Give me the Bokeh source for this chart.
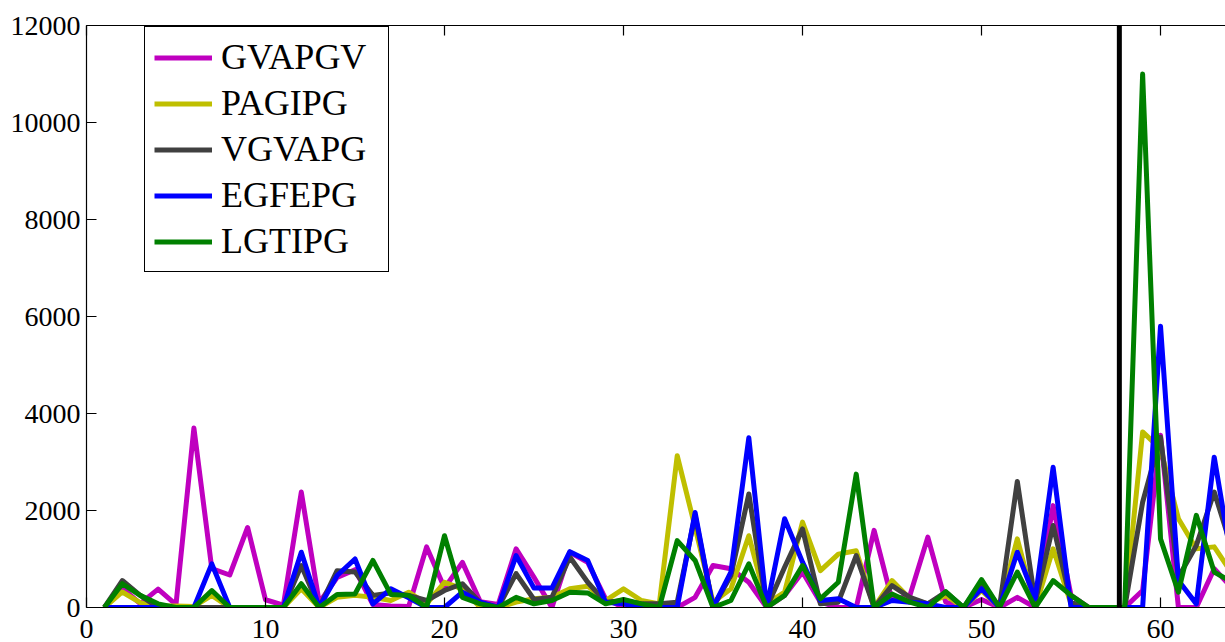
from bokeh.plotting import figure
from bokeh.models import (Range1d, FixedTicker, LinearAxis, Span, Legend, LegendItem,
                          CustomJSTickFormatter)
from bokeh.embed import file_html
from bokeh.resources import INLINE

x = list(range(1, 65))

gvapgv = [0, 400, 80, 380, 60, 3700, 800, 670, 1650, 160,
          50, 2380, 100, 620, 780, 60, 30, 20, 1250, 400,
          930, 120, 60, 1210, 620, 0, 1140, 930, 180, 0,
          0, 0, 0, 210, 865, 800, 520, 0, 250, 730,
          110, 0, 0, 1590, 150, 250, 1450, 110, 0, 165,
          0, 210, 0, 2100, 250, 0, 0, 0, 350, 3550,
          0, 0, 800, 400]
pagipg = [0, 320, 100, 30, 30, 20, 250, 0, 0, 0,
          0, 385, 0, 210, 250, 210, 144, 316, 75, 520,
          385, 0, 0, 110, 180, 210, 385, 440, 144, 385,
          144, 75, 3130, 1650, 110, 385, 1480, 75, 316, 1760,
          760, 1100, 1170, 0, 556, 180, 75, 250, 0, 350,
          0, 1415, 0, 1210, 75, 0, 0, 0, 3620, 3270,
          1830, 1210, 1250, 700]
vgvapg = [0, 556, 250, 0, 0, 0, 0, 0, 0, 0,
          0, 865, 0, 760, 730, 250, 300, 250, 144, 350,
          490, 100, 0, 700, 165, 210, 1040, 520, 110, 144,
          75, 75, 110, 1900, 0, 660, 2340, 0, 830, 1620,
          75, 110, 1070, 0, 450, 210, 75, 316, 0, 520,
          0, 2600, 110, 1690, 100, 0, 0, 0, 2170, 3510,
          625, 1280, 2380, 1200]
egfepg = [0, 0, 0, 0, 0, 0, 900, 0, 0, 0,
          0, 1140, 0, 660, 1000, 75, 385, 200, 0, 0,
          316, 110, 0, 1070, 400, 400, 1150, 970, 110, 75,
          0, 0, 0, 1960, 0, 730, 3500, 0, 1830, 935,
          144, 180, 0, 0, 144, 110, 75, 0, 0, 385,
          0, 1140, 180, 2890, 0, 0, 0, 0, 0, 5800,
          556, 75, 3100, 900]
lgtipg = [0, 490, 250, 75, 0, 0, 350, 0, 0, 0,
          0, 490, 0, 270, 280, 970, 270, 250, 0, 1480,
          210, 75, 0, 210, 75, 144, 316, 300, 75, 165,
          75, 0, 1380, 970, 0, 144, 900, 0, 250, 865,
          180, 520, 2750, 0, 280, 110, 0, 330, 0, 577,
          0, 730, 0, 556, 250, 0, 0, 0, 11000, 1415,
          316, 1900, 730, 520]

names = ["GVAPGV", "PAGIPG", "VGVAPG", "EGFEPG", "LGTIPG"]
series = [gvapgv, pagipg, vgvapg, egfepg, lgtipg]
colors = ["#BF00BF", "#BFBF00", "#404040", "#0000FF", "#008000"]
marker_x = 57.7

x_ticks = [0, 10, 20, 30, 40, 50, 60]
y_ticks = [0, 2000, 4000, 6000, 8000, 10000, 12000]

FONT = "Liberation Serif"

p = figure(width=1225, height=642, output_backend="svg", toolbar_location=None,
           x_range=Range1d(0, 63.63), y_range=Range1d(0, 12000),
           min_border_left=86, min_border_top=25, min_border_bottom=35, min_border_right=0)
p.outline_line_color = None
p.xgrid.visible = False
p.ygrid.visible = False

def style_axis(ax, ticks):
    ax.ticker = FixedTicker(ticks=ticks)
    ax.major_tick_in = 10
    ax.major_tick_out = 0
    ax.minor_tick_line_color = None
    ax.axis_line_color = "black"
    ax.axis_line_width = 1.2
    ax.major_tick_line_color = "black"
    ax.major_tick_line_width = 1.2
    ax.major_label_text_font = FONT
    ax.major_label_text_color = "black"
    ax.major_label_text_font_size = "28px"
    ax.major_label_standoff = 6

style_axis(p.xaxis[0], x_ticks)
p.xaxis[0].major_label_standoff = 12
style_axis(p.yaxis[0], y_ticks)

top = LinearAxis()
style_axis(top, x_ticks)
top.formatter = CustomJSTickFormatter(code="return ''")
top.major_label_standoff = 0
p.add_layout(top, "above")

renderers = []
for name, ys, c in zip(names, series, colors):
    r = p.line(x, ys, line_color=c, line_width=5, line_join="round")
    renderers.append((name, r))

p.add_layout(Span(location=marker_x, dimension="height", line_color="black", line_width=5))

legend = Legend(items=[LegendItem(label=n, renderers=[r]) for n, r in renderers],
                location=(58, 335))
legend.label_text_font = FONT
legend.label_text_font_size = "36px"
legend.label_text_color = "black"
legend.glyph_width = 58
legend.glyph_height = 41
legend.label_height = 41
legend.label_width = 158
legend.label_standoff = 9
legend.padding = 9
legend.spacing = 4
legend.margin = 0
legend.border_line_color = "black"
legend.border_line_alpha = 1.0
legend.border_line_width = 1.4
legend.background_fill_alpha = 1.0
p.add_layout(legend, "center")

open("out.html", "w").write(file_html(p, INLINE))
